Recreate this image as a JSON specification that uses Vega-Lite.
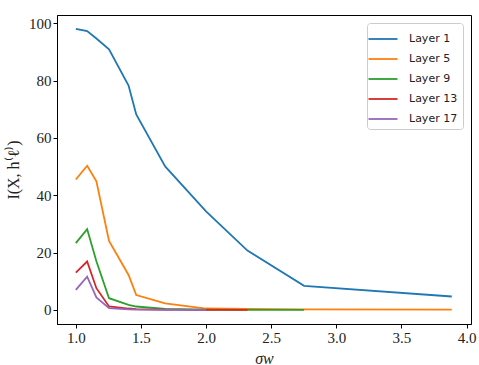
{
  "$schema": "https://vega.github.io/schema/vega-lite/v6.json",
  "width": 414,
  "height": 309,
  "autosize": "none",
  "padding": {"left": 57, "top": 15, "right": 8, "bottom": 41},
  "background": "white",
  "config": {
    "view": {"stroke": "black", "strokeWidth": 1},
    "axis": {
      "grid": false,
      "domainColor": "black",
      "tickColor": "black",
      "tickSize": 4,
      "labelFont": "Liberation Serif",
      "labelFontSize": 15,
      "labelColor": "#222",
      "titleFont": "Liberation Serif",
      "titleFontSize": 16,
      "titleFontWeight": "normal",
      "titleColor": "#222"
    }
  },
  "data": {
    "values": [
      {"s": 1.0, "v": 98.1, "layer": "Layer 1"},
      {"s": 1.087, "v": 97.3, "layer": "Layer 1"},
      {"s": 1.158, "v": 94.7, "layer": "Layer 1"},
      {"s": 1.255, "v": 90.9, "layer": "Layer 1"},
      {"s": 1.405, "v": 78.3, "layer": "Layer 1"},
      {"s": 1.464, "v": 68.2, "layer": "Layer 1"},
      {"s": 1.686, "v": 50.1, "layer": "Layer 1"},
      {"s": 2.0, "v": 34.4, "layer": "Layer 1"},
      {"s": 2.318, "v": 20.7, "layer": "Layer 1"},
      {"s": 2.753, "v": 8.4, "layer": "Layer 1"},
      {"s": 3.887, "v": 4.7, "layer": "Layer 1"},

      {"s": 1.0, "v": 45.5, "layer": "Layer 5"},
      {"s": 1.087, "v": 50.3, "layer": "Layer 5"},
      {"s": 1.158, "v": 44.9, "layer": "Layer 5"},
      {"s": 1.255, "v": 24.1, "layer": "Layer 5"},
      {"s": 1.405, "v": 12.2, "layer": "Layer 5"},
      {"s": 1.464, "v": 5.2, "layer": "Layer 5"},
      {"s": 1.686, "v": 2.3, "layer": "Layer 5"},
      {"s": 2.0, "v": 0.5, "layer": "Layer 5"},
      {"s": 2.318, "v": 0.4, "layer": "Layer 5"},
      {"s": 2.753, "v": 0.2, "layer": "Layer 5"},
      {"s": 3.887, "v": 0.1, "layer": "Layer 5"},

      {"s": 1.0, "v": 23.3, "layer": "Layer 9"},
      {"s": 1.087, "v": 28.2, "layer": "Layer 9"},
      {"s": 1.158, "v": 17.0, "layer": "Layer 9"},
      {"s": 1.255, "v": 4.1, "layer": "Layer 9"},
      {"s": 1.405, "v": 1.8, "layer": "Layer 9"},
      {"s": 1.464, "v": 1.2, "layer": "Layer 9"},
      {"s": 1.686, "v": 0.4, "layer": "Layer 9"},
      {"s": 2.0, "v": 0.1, "layer": "Layer 9"},
      {"s": 2.318, "v": 0.05, "layer": "Layer 9"},
      {"s": 2.753, "v": 0.0, "layer": "Layer 9"},

      {"s": 1.0, "v": 13.0, "layer": "Layer 13"},
      {"s": 1.087, "v": 16.9, "layer": "Layer 13"},
      {"s": 1.158, "v": 7.6, "layer": "Layer 13"},
      {"s": 1.255, "v": 1.2, "layer": "Layer 13"},
      {"s": 1.405, "v": 0.5, "layer": "Layer 13"},
      {"s": 1.464, "v": 0.3, "layer": "Layer 13"},
      {"s": 1.686, "v": 0.1, "layer": "Layer 13"},
      {"s": 2.0, "v": 0.05, "layer": "Layer 13"},
      {"s": 2.318, "v": 0.0, "layer": "Layer 13"},

      {"s": 1.0, "v": 7.0, "layer": "Layer 17"},
      {"s": 1.087, "v": 11.6, "layer": "Layer 17"},
      {"s": 1.158, "v": 4.4, "layer": "Layer 17"},
      {"s": 1.255, "v": 0.6, "layer": "Layer 17"},
      {"s": 1.405, "v": 0.2, "layer": "Layer 17"},
      {"s": 1.464, "v": 0.1, "layer": "Layer 17"},
      {"s": 1.686, "v": 0.05, "layer": "Layer 17"},
      {"s": 2.0, "v": 0.0, "layer": "Layer 17"}
    ]
  },
  "mark": {"type": "line", "strokeWidth": 1.8, "clip": true},
  "encoding": {
    "x": {
      "field": "s",
      "type": "quantitative",
      "scale": {"domain": [0.8555, 4.0345], "nice": false, "zero": false},
      "axis": {"values": [1.0, 1.5, 2.0, 2.5, 3.0, 3.5, 4.0], "format": ".1f", "title": "σw", "titleFontStyle": "italic", "titlePadding": 5}
    },
    "y": {
      "field": "v",
      "type": "quantitative",
      "scale": {"domain": [-4.9, 102.9], "nice": false, "zero": false},
      "axis": {"values": [0, 20, 40, 60, 80, 100], "title": "I(X, h⁽ℓ⁾)", "titlePadding": 7}
    },
    "color": {
      "field": "layer",
      "type": "nominal",
      "sort": ["Layer 1", "Layer 5", "Layer 9", "Layer 13", "Layer 17"],
      "scale": {
        "domain": ["Layer 1", "Layer 5", "Layer 9", "Layer 13", "Layer 17"],
        "range": ["#1f77b4", "#ff7f0e", "#2ca02c", "#d62728", "#9467bd"]
      },
      "legend": {
        "title": null,
        "orient": "none",
        "legendX": 310,
        "legendY": 8,
        "symbolType": "M-1.45,0H1.45",
        "symbolSize": 400,
        "symbolStrokeWidth": 1.8,
        "labelFont": "DejaVu Sans",
        "labelFontSize": 11,
        "labelColor": "#222",
        "rowPadding": 4,
        "labelOffset": 15,
        "padding": 5,
        "strokeColor": "#ccc",
        "fillColor": "white",
        "cornerRadius": 3
      }
    },
    "order": {"field": "layer"}
  }
}
